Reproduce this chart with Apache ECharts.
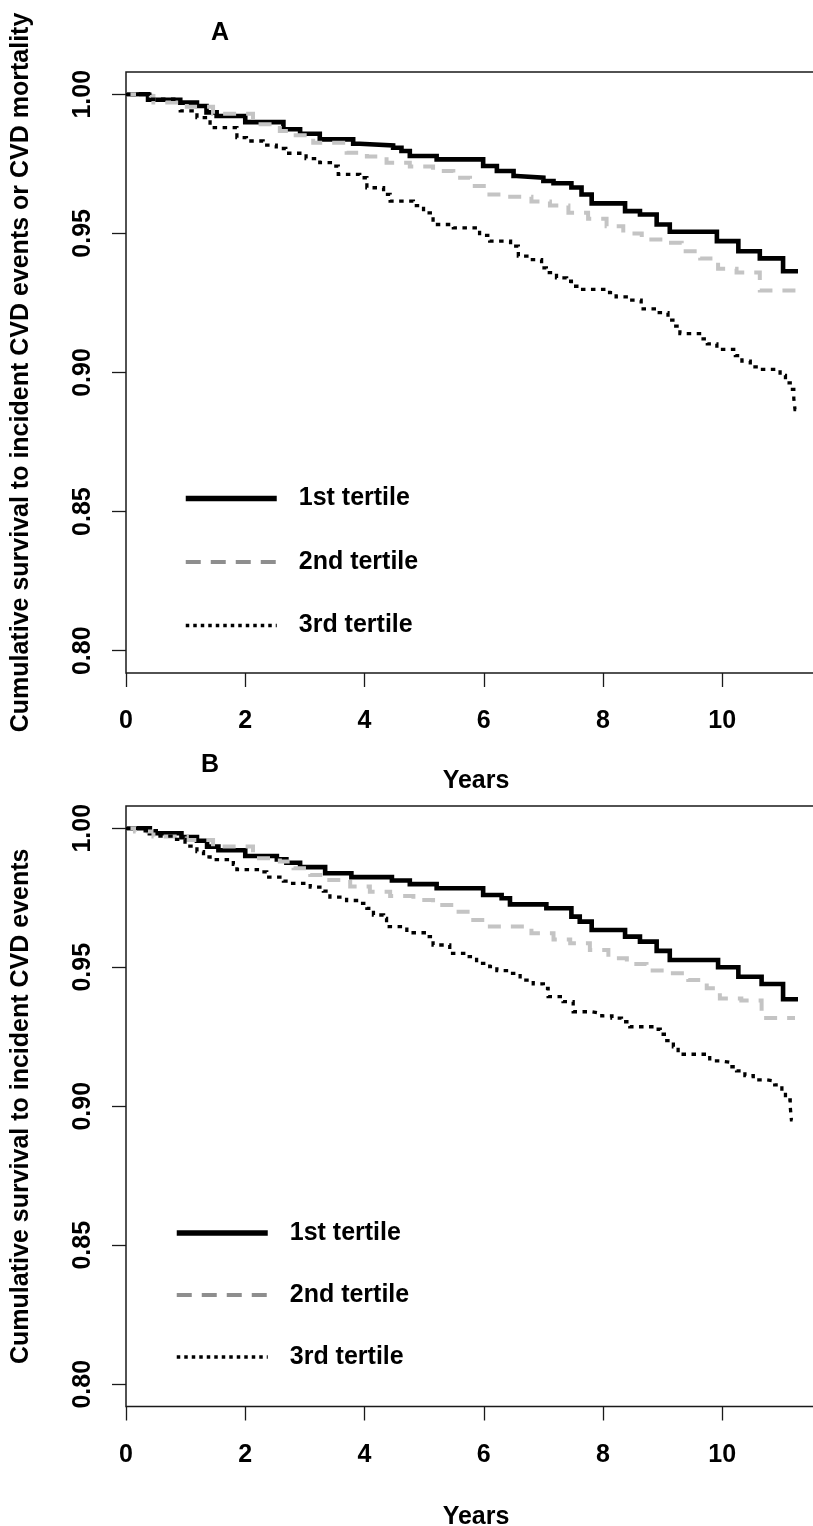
<!DOCTYPE html>
<html>
<head>
<meta charset="utf-8">
<script src="https://cdn.jsdelivr.net/npm/echarts@6/dist/echarts.min.js"></script>
<style>
html,body{margin:0;padding:0;background:#fff;}
#main{width:813px;height:1526px;}
</style>
</head>
<body>
<div id="main"></div>
<script>
// ---------- data ----------
const tertileNames = ['1st tertile', '2nd tertile', '3rd tertile'];
const yTicks = [0.80, 0.85, 0.90, 0.95, 1.00];
const xTickStep = 2;

// Panel A: survival to incident CVD events or CVD mortality  [years, survival]
const A_tert1 = [[0,1.000],[0.37,0.998],[0.91,0.997],[1.19,0.9958],[1.35,0.9935],[1.52,0.9922],[2.0,0.990],[2.64,0.9874],[2.92,0.9858],[3.25,0.9838],[3.81,0.9822],[3.92,0.9816],[4.48,0.9808],[4.62,0.9796],[4.76,0.9778],[5.21,0.9766],[5.99,0.9742],[6.22,0.9724],[6.50,0.9706],[6.55,0.970],[7.00,0.9688],[7.17,0.968],[7.47,0.9665],[7.64,0.964],[7.81,0.9608],[8.37,0.958],[8.62,0.9568],[8.90,0.9532],[9.12,0.9506],[9.91,0.9472],[10.27,0.9436],[10.63,0.941],[11.02,0.9364],[11.27,0.9364]];
const A_tert2 = [[0,1.000],[0.15,0.9994],[0.46,0.997],[1.02,0.9955],[1.46,0.993],[2.13,0.9892],[2.58,0.9868],[2.81,0.9853],[3.14,0.9826],[3.70,0.979],[4.04,0.9776],[4.37,0.9754],[4.76,0.974],[5.15,0.9724],[5.49,0.970],[5.77,0.967],[6.05,0.964],[6.40,0.9632],[6.80,0.9615],[7.11,0.960],[7.42,0.9574],[7.75,0.9553],[8.06,0.9526],[8.34,0.950],[8.65,0.9478],[9.01,0.9466],[9.32,0.9436],[9.63,0.941],[9.93,0.9373],[10.24,0.9359],[10.63,0.9295],[11.27,0.9295]];
const A_tert3 = [[0,1.000],[0.40,0.9982],[0.91,0.994],[1.19,0.9916],[1.41,0.988],[1.86,0.9844],[2.02,0.9832],[2.30,0.9817],[2.52,0.9805],[2.68,0.9788],[3.02,0.9769],[3.25,0.9754],[3.47,0.9742],[3.56,0.9712],[3.92,0.970],[4.04,0.9664],[4.32,0.964],[4.43,0.9616],[4.82,0.960],[4.99,0.9574],[5.15,0.9532],[5.49,0.952],[5.93,0.9493],[6.10,0.9472],[6.45,0.9454],[6.58,0.9418],[6.78,0.9406],[6.97,0.9376],[7.05,0.9359],[7.22,0.934],[7.39,0.9328],[7.47,0.931],[7.61,0.9299],[8.11,0.9287],[8.22,0.9272],[8.39,0.926],[8.64,0.9229],[8.89,0.9215],[9.09,0.9188],[9.22,0.9167],[9.29,0.914],[9.65,0.9121],[9.75,0.9103],[9.91,0.9083],[10.22,0.9061],[10.33,0.9041],[10.47,0.902],[10.64,0.9011],[10.97,0.899],[11.06,0.8963],[11.14,0.8939],[11.20,0.8906],[11.22,0.8867],[11.24,0.8867]];

// Panel B: survival to incident CVD events  [years, survival]
const B_tert1 = [[0,1.000],[0.40,0.9982],[0.93,0.9968],[1.19,0.9955],[1.36,0.9934],[1.55,0.9921],[2.0,0.990],[2.53,0.9888],[2.69,0.9876],[2.92,0.986],[3.34,0.9838],[3.78,0.9824],[4.46,0.9812],[4.76,0.9799],[5.21,0.9784],[5.99,0.976],[6.30,0.9748],[6.44,0.9726],[7.05,0.9712],[7.47,0.9682],[7.61,0.9664],[7.81,0.9634],[8.37,0.961],[8.62,0.9592],[8.90,0.9559],[9.12,0.9526],[9.93,0.950],[10.27,0.9466],[10.66,0.944],[11.02,0.9385],[11.27,0.9385]];
const B_tert2 = [[0,1.000],[0.15,0.9988],[0.46,0.997],[1.02,0.9958],[1.46,0.9934],[2.13,0.9892],[2.58,0.988],[2.81,0.9856],[3.09,0.9832],[3.37,0.9814],[3.76,0.979],[4.09,0.9772],[4.43,0.9756],[4.82,0.9742],[5.15,0.9724],[5.49,0.970],[5.77,0.967],[6.05,0.9647],[6.80,0.9622],[7.17,0.960],[7.45,0.9586],[7.78,0.9562],[8.09,0.9532],[8.40,0.9512],[8.73,0.9488],[9.07,0.9478],[9.43,0.9454],[9.74,0.9424],[9.96,0.9388],[10.32,0.938],[10.66,0.9317],[11.22,0.9317]];
const B_tert3 = [[0,1.000],[0.23,0.9991],[0.57,0.9972],[0.79,0.996],[0.99,0.9936],[1.19,0.9916],[1.30,0.9897],[1.41,0.9887],[1.80,0.987],[1.86,0.9851],[2.25,0.9843],[2.36,0.9824],[2.64,0.981],[2.75,0.9802],[3.09,0.9788],[3.31,0.9774],[3.42,0.9752],[3.70,0.974],[3.92,0.973],[4.04,0.9712],[4.15,0.9688],[4.32,0.9676],[4.37,0.9646],[4.71,0.9624],[5.04,0.961],[5.15,0.958],[5.43,0.955],[5.71,0.9538],[5.88,0.9514],[6.10,0.9502],[6.22,0.9488],[6.45,0.9478],[6.61,0.9454],[6.83,0.944],[7.00,0.9424],[7.08,0.9394],[7.33,0.9376],[7.50,0.934],[7.81,0.9334],[7.98,0.9325],[8.15,0.9317],[8.31,0.9304],[8.45,0.9286],[8.82,0.9277],[8.96,0.9259],[9.07,0.9236],[9.18,0.9214],[9.26,0.9187],[9.79,0.9163],[9.96,0.9158],[10.13,0.9142],[10.24,0.9127],[10.38,0.911],[10.52,0.9095],[10.74,0.9091],[10.88,0.9077],[11.00,0.9053],[11.06,0.9023],[11.14,0.8999],[11.16,0.8951],[11.18,0.8951]];

const panelTitles = ['A', 'B'];
const yTitles = ['Cumulative survival to incident CVD events or CVD mortality', 'Cumulative survival to incident CVD events'];
const xTitle = 'Years';

// ---------- styles ----------
const FONT = 'Liberation Sans, Arial, Helvetica, sans-serif';
const AXC = '#1a1a1a';
const curveStyles = [
  {color: '#000000', width: 4.6, type: 'solid'},
  {color: '#c4c4c4', width: 4, type: [13, 10]},
  {color: '#000000', width: 3.3, type: [4.5, 5.5]}
];
const legendLineStyles = [
  {color: '#000000', width: 5.5, type: 'solid'},
  {color: '#8e8e8e', width: 4, type: [15, 10]},
  {color: '#000000', width: 3.5, type: [3.5, 4]}
];

const X_MAX = 11.74;
const Y_MIN = 0.792, Y_MAX = 1.008;

const grids = [
  {left: 126, top: 72, width: 700, height: 601},
  {left: 126, top: 806, width: 700, height: 600.5}
];

function xAxisFor(i) {
  return {
    type: 'value', gridIndex: i, min: 0, max: X_MAX, interval: xTickStep,
    name: xTitle, nameLocation: 'middle', nameGap: i === 0 ? 96 : 98,
    nameMoveOverlap: false,
    nameTextStyle: {fontFamily: FONT, fontWeight: 'bold', fontSize: 25, color: '#000'},
    axisLine: {show: false},
    axisTick: {show: true, length: 14, inside: false, lineStyle: {color: AXC, width: 1.3}},
    axisLabel: {show: true, margin: 36, fontFamily: FONT, fontWeight: 'bold', fontSize: 25, color: '#000',
      showMaxLabel: false},
    splitLine: {show: false}
  };
}
function yAxisFor(i) {
  return {
    type: 'value', gridIndex: i, min: Y_MIN, max: Y_MAX,
    name: yTitles[i], nameLocation: 'middle', nameGap: 92, nameRotate: 90,
    nameMoveOverlap: false,
    nameTextStyle: {fontFamily: FONT, fontWeight: 'bold', fontSize: 25, color: '#000'},
    axisLine: {show: false},
    axisTick: {show: true, length: 14, inside: false, customValues: yTicks, lineStyle: {color: AXC, width: 1.3}},
    axisLabel: {show: true, rotate: 90, margin: 30, customValues: yTicks,
      formatter: v => Number(v).toFixed(2),
      fontFamily: FONT, fontWeight: 'bold', fontSize: 25, color: '#000'},
    splitLine: {show: false}
  };
}

const panelData = [[A_tert1, A_tert2, A_tert3], [B_tert1, B_tert2, B_tert3]];
const series = [];
panelData.forEach((curves, p) => {
  curves.forEach((d, k) => {
    series.push({
      type: 'line', name: tertileNames[k], xAxisIndex: p, yAxisIndex: p,
      data: d, step: 'end', symbol: 'none', showSymbol: false, silent: true,
      animation: false, clip: true, z: 2 + k,
      lineStyle: {color: curveStyles[k].color, width: curveStyles[k].width, type: curveStyles[k].type, cap: 'butt', join: 'miter'},
      itemStyle: {color: curveStyles[k].color}
    });
  });
});

function legendFor(left, top, gap) {
  return {
    orient: 'vertical', left: left, top: top, itemWidth: 91, itemHeight: 12, itemGap: gap,
    padding: 0, selectedMode: false, icon: null,
    textStyle: {fontFamily: FONT, fontWeight: 'bold', fontSize: 25, color: '#000', lineHeight: 25, padding: [0, 0, 0, 17]},
    data: tertileNames.map((n, k) => ({
      name: n,
      lineStyle: {color: legendLineStyles[k].color, width: legendLineStyles[k].width, type: legendLineStyles[k].type, cap: 'butt', opacity: 1},
      itemStyle: {opacity: 0}
    }))
  };
}

const option = {
  backgroundColor: '#ffffff',
  animation: false,
  title: [
    {text: panelTitles[0], left: 211, top: 21, padding: 0, textStyle: {fontFamily: FONT, fontWeight: 'bold', fontSize: 25, color: '#000'}},
    {text: panelTitles[1], left: 201, top: 753, padding: 0, textStyle: {fontFamily: FONT, fontWeight: 'bold', fontSize: 25, color: '#000'}}
  ],
  legend: [legendFor(183, 486, 38.5), legendFor(174, 1220.5, 37)],
  grid: grids.map(g => Object.assign({show: true, borderColor: AXC, borderWidth: 1.5, backgroundColor: 'transparent', containLabel: false, outerBoundsMode: 'none'}, g)),
  xAxis: [xAxisFor(0), xAxisFor(1)],
  yAxis: [yAxisFor(0), yAxisFor(1)],
  series: series
};

const chart = echarts.init(document.getElementById('main'), null, {renderer: 'canvas', width: 813, height: 1526});
chart.setOption(option);
</script>
</body>
</html>
